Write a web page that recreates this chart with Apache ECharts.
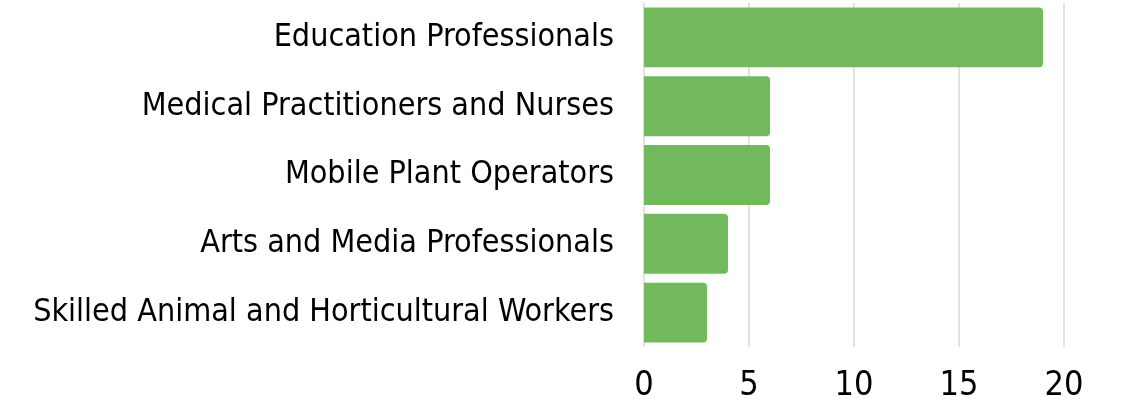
<!DOCTYPE html>
<html>
<head>
<meta charset="utf-8">
<script src="https://cdn.jsdelivr.net/npm/echarts@6/dist/echarts.min.js"></script>
<style>
  html, body { margin: 0; padding: 0; background: #fff; }
  #chart { width: 1123px; height: 403px; }
</style>
</head>
<body>
<div id="chart"></div>
<script>
// data
var categories = [
  'Education Professionals',
  'Medical Practitioners and Nurses',
  'Mobile Plant Operators',
  'Arts and Media Professionals',
  'Skilled Animal and Horticultural Workers'
];
var values = [19, 6, 6, 4, 3];
var xTicks = [0, 5, 10, 15, 20];

var font = '"Liberation Sans Narrow", "DejaVu Sans Condensed", sans-serif';

var chart = echarts.init(document.getElementById('chart'));
chart.setOption({
  animation: false,
  grid: { left: 644, right: 59, top: 3, bottom: 56, outerBoundsMode: 'none', containLabel: false },
  xAxis: {
    type: 'value',
    min: xTicks[0],
    max: xTicks[xTicks.length - 1],
    interval: 5,
    axisLine: { show: false },
    axisTick: { show: false },
    splitLine: { lineStyle: { color: '#d9d9d9', width: 1.5 } },
    axisLabel: { color: '#000', fontFamily: font, fontSize: 34, margin: 22 }
  },
  yAxis: {
    type: 'category',
    inverse: true,
    data: categories,
    axisLine: { show: false },
    axisTick: { show: false },
    axisLabel: { color: '#000', fontFamily: font, fontSize: 32, margin: 30 }
  },
  series: [{
    type: 'bar',
    data: values,
    barCategoryGap: '13%',
    itemStyle: { color: '#71b95c', borderRadius: [0, 4, 4, 0] }
  }]
});
</script>
</body>
</html>
